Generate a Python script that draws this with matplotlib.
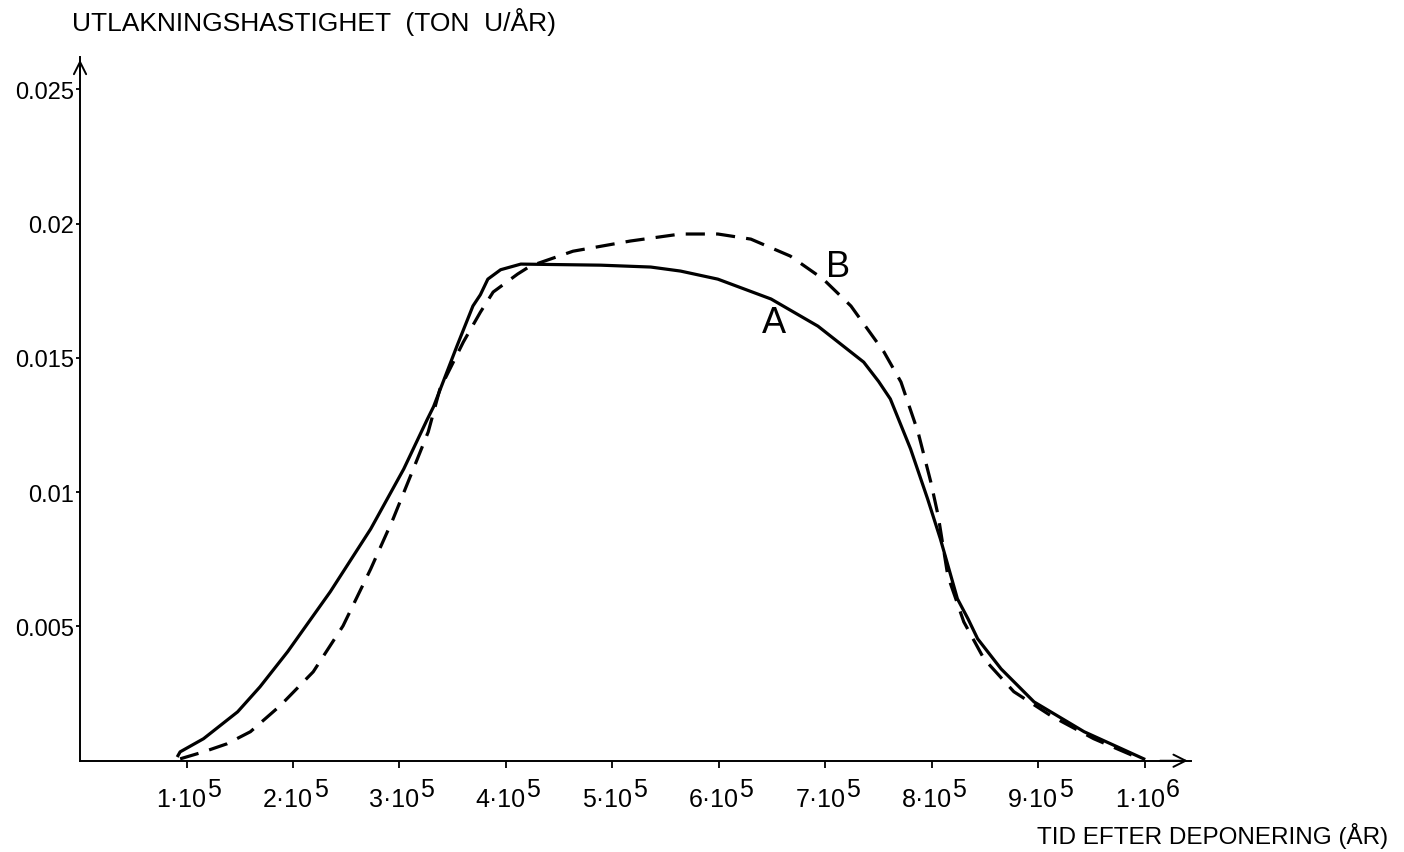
import numpy as np
import matplotlib
matplotlib.use("Agg")
import matplotlib.pyplot as plt

# x in units of 10^5 years, y in ton U / year
xA = [0.92, 0.94, 1.16, 1.48, 1.69, 1.95, 2.35, 2.73, 3.04, 3.26, 3.32, 3.54, 3.69,
      3.76, 3.83, 3.95, 4.14, 4.89, 5.36, 5.64, 5.99, 6.49, 6.93, 7.36, 7.50, 7.61,
      7.80, 7.96, 8.08, 8.24, 8.34, 8.43, 8.65, 8.96, 9.43, 9.99]
yA = [0.00019, 0.00033, 0.00082, 0.00182, 0.00275, 0.00406, 0.00629, 0.00863, 0.01086,
      0.01270, 0.01318, 0.01544, 0.01693, 0.01735, 0.01793, 0.01828, 0.01849, 0.01845,
      0.01838, 0.01823, 0.01793, 0.01719, 0.01618, 0.01484, 0.01412, 0.01347, 0.01161,
      0.00975, 0.00826, 0.00603, 0.00528, 0.00454, 0.00342, 0.00219, 0.00108, 0.00007]

xB = [0.94, 1.16, 1.38, 1.60, 1.88, 2.19, 2.47, 2.73, 2.94, 3.13, 3.27, 3.38, 3.60,
      3.76, 3.88, 4.11, 4.23, 4.63, 5.17, 5.64, 5.99, 6.30, 6.67, 6.98, 7.24, 7.55,
      7.71, 7.87, 7.99, 8.06, 8.15, 8.30, 8.49, 8.77, 9.12, 9.52, 9.96]
yB = [0.00007, 0.00033, 0.00063, 0.00108, 0.00205, 0.00331, 0.00502, 0.00714, 0.00900,
      0.01086, 0.01224, 0.01384, 0.01559, 0.01670, 0.01745, 0.01812, 0.01842, 0.01897,
      0.01935, 0.01961, 0.01961, 0.01942, 0.01879, 0.01793, 0.01693, 0.01522, 0.01410,
      0.01224, 0.01038, 0.00911, 0.00688, 0.00517, 0.00379, 0.00257, 0.00167, 0.00082,
      0.00007]

xticks = [1, 2, 3, 4, 5, 6, 7, 8, 9, 10]
xtick_base = ["1·10", "2·10", "3·10", "4·10", "5·10", "6·10", "7·10", "8·10", "9·10", "1·10"]
xtick_exp = ["5", "5", "5", "5", "5", "5", "5", "5", "5", "6"]
yticks = [0.005, 0.01, 0.015, 0.02, 0.025]
yticklabels = ["0.005", "0.01", "0.015", "0.02", "0.025"]

plt.rcParams['font.family'] = ['Liberation Sans', 'DejaVu Sans']

fig = plt.figure(figsize=(14.04, 8.53), dpi=100)
ax = fig.add_axes([0.057, 0.107, 0.791, 0.825])

ax.plot(np.array(xA) * 1e5, yA, color='black', lw=2.3, solid_joinstyle='round')
ax.plot(np.array(xB) * 1e5, yB, color='black', lw=2.3, dashes=(6, 3.5))

ax.set_xlim(0, 10.43e5)
ax.set_ylim(0, 0.0262)

for s in ['top', 'right']:
    ax.spines[s].set_visible(False)
ax.spines['left'].set_linewidth(1.4)
ax.spines['bottom'].set_linewidth(1.4)

# arrow heads on the axes
ax.annotate('', xy=(1.0, 0), xytext=(0.97, 0), xycoords='axes fraction',
            arrowprops=dict(arrowstyle='->', lw=1.4, mutation_scale=22))
ax.annotate('', xy=(0, 1.0), xytext=(0, 0.97), xycoords='axes fraction',
            arrowprops=dict(arrowstyle='->', lw=1.4, mutation_scale=22))

ax.set_xticks([t * 1e5 for t in xticks])
ax.set_xticklabels([])
# hand-lettered style labels: base + full-size raised exponent
for t, b, e in zip(xticks, xtick_base, xtick_exp):
    ax.annotate(b, xy=(t * 1e5, 0), xycoords=('data', 'axes fraction'),
                xytext=(14.4, -32.4), textcoords='offset points',
                ha='right', va='baseline', fontsize=18)
    ax.annotate(e, xy=(t * 1e5, 0), xycoords=('data', 'axes fraction'),
                xytext=(14.8, -25.2), textcoords='offset points',
                ha='left', va='baseline', fontsize=18)
ax.set_yticks(yticks)
ax.set_yticklabels(yticklabels, fontsize=17)
ax.tick_params(axis='x', direction='out', length=5, width=1.3)
ax.tick_params(axis='y', direction='out', length=3, width=1.3, pad=1)

ax.text(6.52e5, 0.0163, "A", fontsize=26, ha='center', va='center')
ax.text(7.12e5, 0.0184, "B", fontsize=26, ha='center', va='center')

fig.text(0.051, 0.974, "UTLAKNINGSHASTIGHET  (TON  U/ÅR)", fontsize=19, ha='left', va='center')
fig.text(0.9886, 0.020, "TID EFTER DEPONERING (ÅR)", fontsize=17.5, ha='right', va='center')

fig.savefig("out.png", dpi=100)
